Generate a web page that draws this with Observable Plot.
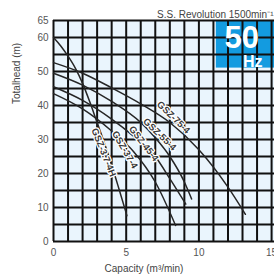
<!DOCTYPE html>
<html>
<head>
<meta charset="utf-8">
<script src="https://cdn.jsdelivr.net/npm/d3@7"></script>
<script src="https://cdn.jsdelivr.net/npm/@observablehq/plot@0.6"></script>
<style>
  html, body { margin: 0; padding: 0; background: #fff; }
  #chart svg { display: block; }
</style>
</head>
<body>
<div id="chart"></div>
<script>
// ---- data ----
const models = ["GSZ-75-4", "GSZ-55-4", "GSZ-45-4", "GSZ-37-4", "GSZ-3.7-4H"];
const capacity75 = [0, 2, 4, 6, 8, 10, 12, 13.2];
const head75     = [52.6, 49.5, 45.2, 40.5, 35, 27, 16, 8];
const capacity55 = [0, 2, 4, 6, 7, 8, 9, 9.5];
const head55     = [49.5, 46, 41.2, 35, 30.5, 25, 17.5, 12.5];
const capacity45 = [0, 2, 4, 5.5, 7, 8, 9.1];
const head45     = [45.5, 41.5, 36, 31, 25, 18.5, 11];
const capacity37 = [0, 2, 4, 5.5, 7, 8.4];
const head37     = [43.5, 39, 32.5, 26.5, 17.5, 4.7];
const capacity37H = [0, 0.5, 1, 1.5, 2, 2.5, 3, 3.5, 4, 4.5, 5.05];
const head37H     = [60, 57.5, 54.5, 51, 46.5, 41, 35, 29, 22.5, 15.5, 7.6];
const labelCapacity = [8.25, 7.3, 6.2, 4.9, 3.45];
const labelHead     = [36.5, 31.5, 28.8, 27, 26.2];
const labelAngle    = [44, 44, 52, 60, 68];
const xTicks = [0, 5, 10, 15];
const yTicks = [0, 10, 20, 30, 40, 50, 60, 65];
const xGrid = d3.range(0, 16, 1);
const yGrid = d3.range(0, 66, 5);
const xLabel = "Capacity (m³/min)";
const yLabel = "Totalhead (m)";
const title = "S.S. Revolution 1500min⁻¹";
const badgeBig = "50";
const badgeSmall = "Hz";
const badgeSpan = {q1: 11.2, q2: 15.2, h1: 51, h2: 65};

const series = [
  [capacity75, head75], [capacity55, head55], [capacity45, head45],
  [capacity37, head37], [capacity37H, head37H]
];
const curveData = series.flatMap(([qs, hs], i) =>
  qs.map((q, j) => ({model: models[i], q, h: hs[j]})));
const labels = models.map((m, i) => ({model: m, q: labelCapacity[i], h: labelHead[i], a: labelAngle[i]}));

const font = "Liberation Sans, Arial, sans-serif";

const chart = Plot.plot({
  width: 274,
  height: 275,
  marginLeft: 53,
  marginRight: 0,
  marginTop: 20,
  marginBottom: 34,
  style: {fontFamily: font, background: "#fff", overflow: "visible"},
  x: {domain: [0, 15.2], ticks: xTicks, tickSize: 0, tickPadding: 7, label: null},
  y: {domain: [0, 65], ticks: yTicks, tickSize: 0, tickPadding: 5, label: null},
  marks: [
    Plot.frame({fill: "#eaf5fd", stroke: "none"}),
    Plot.rect([badgeSpan], {x1: "q1", x2: "q2", y1: "h1", y2: "h2", fill: "#139be0"}),
    Plot.ruleX(xGrid, {stroke: "#111", strokeWidth: 2}),
    Plot.ruleY(yGrid, {stroke: "#111", strokeWidth: 2}),
    Plot.line(curveData, {x: "q", y: "h", z: "model", curve: "monotone-x", stroke: "#262626", strokeWidth: 1.5}),
    Plot.text(labels, {x: "q", y: "h", text: "model", rotate: "a", fontSize: 9.5, fontWeight: "bold",
      fill: "#3a3a3a", stroke: "#fff", strokeWidth: 2.5}),
    Plot.axisX({ticks: xTicks, tickSize: 0, tickPadding: 7, fontSize: 10, fill: "#555", label: null}),
    Plot.axisY({ticks: yTicks, tickSize: 0, tickPadding: 5, fontSize: 10, fill: "#555", label: null}),
    Plot.text([badgeBig], {x: () => 12.95, y: () => 59.8, text: d => d, fill: "#fff", fontSize: 31, fontWeight: "bold"}),
    Plot.text([badgeSmall], {x: () => 13.7, y: () => 52.8, text: d => d, fill: "#fff", fontSize: 16, fontWeight: "bold"}),
    Plot.text([title], {frameAnchor: "top-right", text: d => d, dx: -1, dy: -3, lineAnchor: "bottom", fontSize: 10, fill: "#444"}),
    Plot.text([xLabel], {frameAnchor: "bottom", text: d => d, dx: -20, dy: 30, lineAnchor: "bottom", fontSize: 10, fill: "#444"}),
    Plot.text([yLabel], {frameAnchor: "left", text: d => d, dx: -37, dy: -27, rotate: -90, fontSize: 10, fill: "#444"})
  ]
});
document.getElementById("chart").appendChild(chart);
</script>
</body>
</html>
